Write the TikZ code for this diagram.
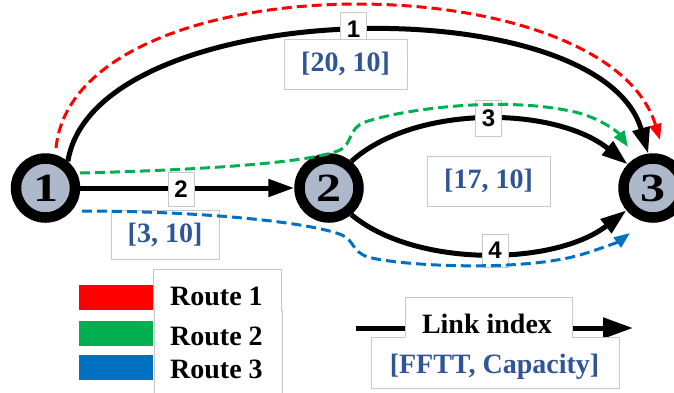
\documentclass[tikz,border=0pt]{standalone}
\usepackage{fontspec}
\usepackage{graphicx}
\setmainfont{Liberation Serif}
\newfontfamily\labelsans{Liberation Sans}
\usetikzlibrary{arrows.meta}
\definecolor{nodefill}{HTML}{ADB9CA}
\definecolor{boxline}{HTML}{C8C8C8}
\definecolor{valblue}{HTML}{2F5597}
\definecolor{routered}{HTML}{FF0000}
\definecolor{routegreen}{HTML}{00B050}
\definecolor{routeblue}{HTML}{0070C0}

\begin{document}
\begin{tikzpicture}[x=1bp,y=-1bp,
  netnode/.style={circle, draw=black, line width=10.5bp, fill=nodefill,
    minimum size=59bp, inner sep=0pt,
    font=\fontsize{40bp}{40bp}\selectfont\bfseries},
  link/.style={line width=5bp, -{Triangle[length=26bp,width=17bp]}},
  idx/.style={draw=boxline, line width=0.8bp, fill=white, inner sep=0pt,
    minimum width=26bp, minimum height=34bp,
    font=\labelsans\fontsize{24bp}{24bp}\selectfont\bfseries},
  val/.style={draw=boxline, line width=0.8bp, fill=white, inner sep=0pt,
    text=valblue, font=\fontsize{28bp}{28bp}\selectfont\bfseries},
  legtext/.style={inner sep=0pt, anchor=base west,
    font=\fontsize{28bp}{28bp}\selectfont\bfseries},
  route/.style={line width=3bp, dash pattern=on 10bp off 5bp,
    -{Triangle[length=16bp,width=12bp]}},
  outline/.style={draw=boxline, line width=0.8bp},
]
\useasboundingbox (0,0) rectangle (674,392);
\clip (0,0) rectangle (674,392);
\fill[white] (0,0) rectangle (674,392);

% network nodes
\node[netnode] (n1) at (45.5,188) {\scalebox{1.25}[1]{1}};
\node[netnode] (n2) at (329,188) {\scalebox{1.25}[1]{2}};
\node[netnode] (n3) at (653,188) {\scalebox{1.25}[1]{3}};

% links
\draw[link] (n1) -- (n2);
\draw[link] (n1.50) .. controls (95,-5) and (600,-15) .. (n3.98);
\draw[link] (n2.50) .. controls (415,104) and (555,106) .. (n3.137);
\draw[link] (n2.-50) .. controls (415,268) and (555,266) .. (n3.-140);

% link indices and [FFTT, capacity] values
\node[idx] (l1) at (353.5,29) {1};
\node[val, minimum width=123bp, minimum height=50bp] (v1) at (345.5,64) {\raisebox{-3bp}{[20, 10]}};
\node[idx] (l2) at (181,189) {2};
\node[idx, minimum height=36bp] (l3) at (488.5,118) {3};
\node[idx, minimum height=33bp] (l4) at (495,250.5) {4};
\node[val, minimum width=108bp, minimum height=49bp] (v2) at (165,234.5) {\raisebox{-3bp}{[3, 10]}};
\node[val, minimum width=123bp, minimum height=50bp] (v34) at (488.5,181) {\raisebox{-3bp}{[17, 10]}};

% routes
\coordinate (r1s) at (56,148);
\coordinate (r1e) at (660,140);
\draw[route, routered] (r1s) .. controls (75,-40) and (606,-40) .. (r1e);

\coordinate (r2s) at (80,173);
\coordinate (r2e) at (628,147);
\draw[route, routegreen] (r2s) .. controls (200,170) and (310,163) .. (340,150)
  .. controls (352,145) and (348,128) .. (365,122)
  .. controls (400,110) and (500,95) .. (575,112)
  .. controls (600,118) and (618,132) .. (r2e);

\coordinate (r3s) at (82,211);
\coordinate (r3e) at (630,233);
\draw[route, routeblue] (r3s) .. controls (200,211) and (310,222) .. (342,235)
  .. controls (354,240) and (352,252) .. (368,257)
  .. controls (400,266) and (520,272) .. (580,255)
  .. controls (600,249) and (618,242) .. (r3e);

% legend: routes
\fill[routered] (79,285) rectangle (153,310);
\fill[routegreen] (79,321) rectangle (153,346);
\fill[routeblue] (79,355) rectangle (153,380);
\draw[outline] (153,310) -- (153,269) -- (281,269) -- (281,310) -- (282,310) -- (282,400);
\draw[outline] (154,310) -- (154,400);
\node[legtext] (t1) at (170,305) {Route 1};
\node[legtext] (t2) at (170,345) {Route 2};
\node[legtext] (t3) at (170,378) {Route 3};

% legend: link notation
\coordinate (ks) at (356,328);
\coordinate (ke) at (633,328);
\draw[line width=5bp, -{Triangle[length=30bp,width=20bp]}] (ks) -- (ke);
\fill[white] (405,297) rectangle (572,337);
\fill[white] (371,337) rectangle (619,388);
\draw[outline] (405,337) -- (405,297) -- (572,297) -- (572,337);
\draw[outline] (371,337) -- (405,337);
\draw[outline] (572,337) -- (619,337);
\draw[outline] (371,337) -- (371,388) -- (619,388) -- (619,337);
\node[legtext, anchor=base] (tk) at (487,333) {Link index};
\node[legtext, anchor=base, text=valblue] (tv) at (494.5,373) {[FFTT, Capacity]};
\end{tikzpicture}
\end{document}
